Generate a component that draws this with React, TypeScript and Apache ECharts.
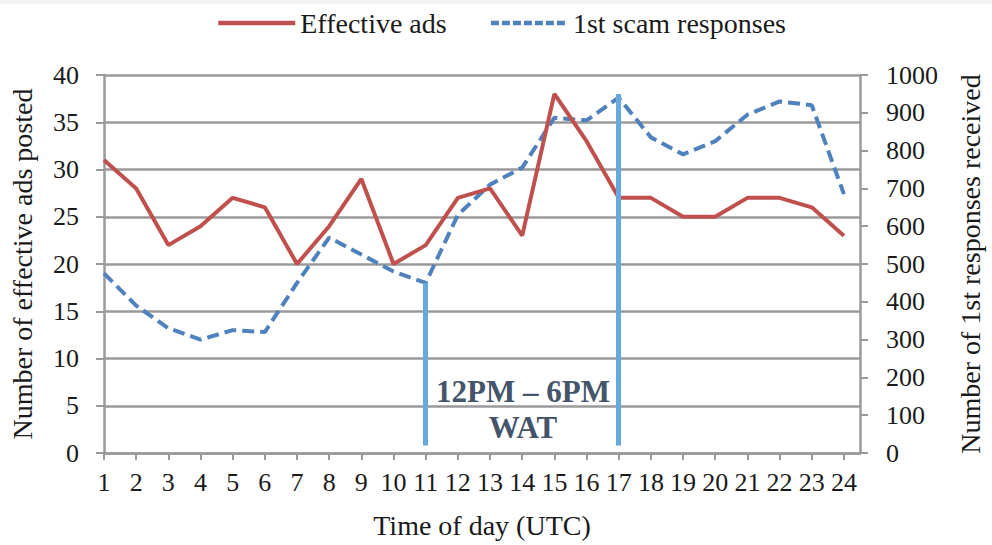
import React, { useEffect, useRef } from "react";
import * as echarts from "echarts";

const hours = [1, 2, 3, 4, 5, 6, 7, 8, 9, 10, 11, 12, 13, 14, 15, 16, 17, 18, 19, 20, 21, 22, 23, 24];
const effectiveAds = [31, 28, 22, 24, 27, 26, 20, 24, 29, 20, 22, 27, 28, 23, 38, 33, 27, 27, 25, 25, 27, 27, 26, 23];
const scamResponses = [475, 390, 330, 300, 325, 320, 450, 570, 525, 480, 450, 630, 710, 755, 887, 880, 940, 835, 790, 825, 895, 930, 920, 685];
const leftTicks = { min: 0, max: 40, interval: 5 };
const rightTicks = { min: 0, max: 1000, interval: 100 };
// window markers: [hour, bottom value, top value] in left-axis units
const windowMarkers = [
  [11, 0.8, 18.0],
  [17, 0.8, 38.0],
];
const annotation = "12PM – 6PM\nWAT";

const FONT = "Liberation Serif";
const GRID = "#9a9a9a";
const TXT = "#1a1a1a";

export default function App() {
  const ref = useRef<HTMLDivElement>(null);
  useEffect(() => {
    if (!ref.current) return;
    const chart = echarts.init(ref.current, null, { renderer: "svg" });
    const option: any = {
      animation: false,
      backgroundColor: "#ffffff",
      textStyle: { fontFamily: FONT },
      legend: {
        top: 4,
        left: 211,
        itemWidth: 77,
        itemHeight: 14,
        itemGap: 42,
        itemStyle: { opacity: 0 },
        textStyle: { fontFamily: FONT, fontSize: 28, color: TXT },
        data: [
          { name: "Effective ads", lineStyle: { color: "#c0504d", width: 4.5, type: "solid" } },
          { name: "1st scam responses", lineStyle: { color: "#4f81bd", width: 4.5, type: [8, 3] } },
        ],
      },
      grid: { left: 98, right: 126, top: 75, bottom: 92 },
      xAxis: {
        type: "value",
        min: 1,
        max: 24.5,
        interval: 1,
        name: "Time of day (UTC)",
        nameLocation: "middle",
        nameGap: 58,
        nameTextStyle: { fontFamily: FONT, fontSize: 28, color: TXT },
        axisLine: { show: true, onZero: false, lineStyle: { color: GRID, width: 2.5 } },
        axisTick: { show: true, length: 7, customValues: hours, lineStyle: { color: GRID, width: 2 } },
        axisLabel: {
          customValues: hours,
          margin: 16,
          fontFamily: FONT,
          fontSize: 26,
          color: TXT,
          hideOverlap: false,
        },
        splitLine: { show: false },
      },
      yAxis: [
        {
          type: "value",
          ...leftTicks,
          position: "left",
          name: "Number of effective ads posted",
          nameLocation: "middle",
          nameRotate: 90,
          nameGap: 68,
          nameTextStyle: { fontFamily: FONT, fontSize: 28, color: TXT },
          axisLine: { show: true, lineStyle: { color: GRID, width: 2.5 } },
          axisTick: { show: true, length: 8, lineStyle: { color: GRID, width: 2 } },
          axisLabel: { margin: 25, fontFamily: FONT, fontSize: 26, color: TXT },
          splitLine: { show: true, lineStyle: { color: GRID, width: 2.5 } },
        },
        {
          type: "value",
          ...rightTicks,
          position: "right",
          name: "Number of 1st responses received",
          nameLocation: "middle",
          nameRotate: 90,
          nameGap: 96,
          nameTextStyle: { fontFamily: FONT, fontSize: 28, color: TXT },
          axisLine: { show: true, lineStyle: { color: GRID, width: 2.5 } },
          axisTick: { show: true, length: 8, lineStyle: { color: GRID, width: 2 } },
          axisLabel: {
            margin: 26,
            fontFamily: FONT,
            fontSize: 26,
            color: TXT,
            formatter: (v: number) => String(v),
          },
          splitLine: { show: false },
        },
      ],
      series: [
        {
          name: "Effective ads",
          type: "line",
          yAxisIndex: 0,
          data: hours.map((h, i) => [h, effectiveAds[i]]),
          showSymbol: false,
          symbol: "none",
          z: 3,
          lineStyle: { color: "#c0504d", width: 4 },
          itemStyle: { color: "#c0504d" },
          markLine: {
            silent: true,
            symbol: ["none", "none"],
            label: { show: false },
            lineStyle: { color: "#64aade", width: 5, type: "solid" },
            data: windowMarkers.map(([h, lo, hi]) => [
              { coord: [h, lo] },
              { coord: [h, hi] },
            ]),
          },
        },
        {
          name: "1st scam responses",
          type: "line",
          yAxisIndex: 1,
          data: hours.map((h, i) => [h, scamResponses[i]]),
          showSymbol: false,
          symbol: "none",
          z: 2,
          lineStyle: { color: "#4f81bd", width: 4, type: [12, 6] },
          itemStyle: { color: "#4f81bd" },
        },
      ],
      graphic: [
        {
          type: "rect",
          shape: { x: 0, y: 0, width: 992, height: 4 },
          style: { fill: "#f3f3f3" },
          silent: true,
          z: 0,
        },
        {
          type: "text",
          x: 523,
          y: 373,
          z: 10,
          style: {
            text: annotation,
            fontFamily: FONT,
            fontWeight: "bold",
            fontSize: 31,
            lineHeight: 36,
            fill: "#44546a",
            textAlign: "center",
            textVerticalAlign: "top",
          },
        },
      ],
    };
    chart.setOption(option);
    return () => chart.dispose();
  }, []);
  return (
    <div
      ref={ref}
      style={{ position: "fixed", left: 0, top: 0, width: 992, height: 545, background: "#fff" }}
    />
  );
}
